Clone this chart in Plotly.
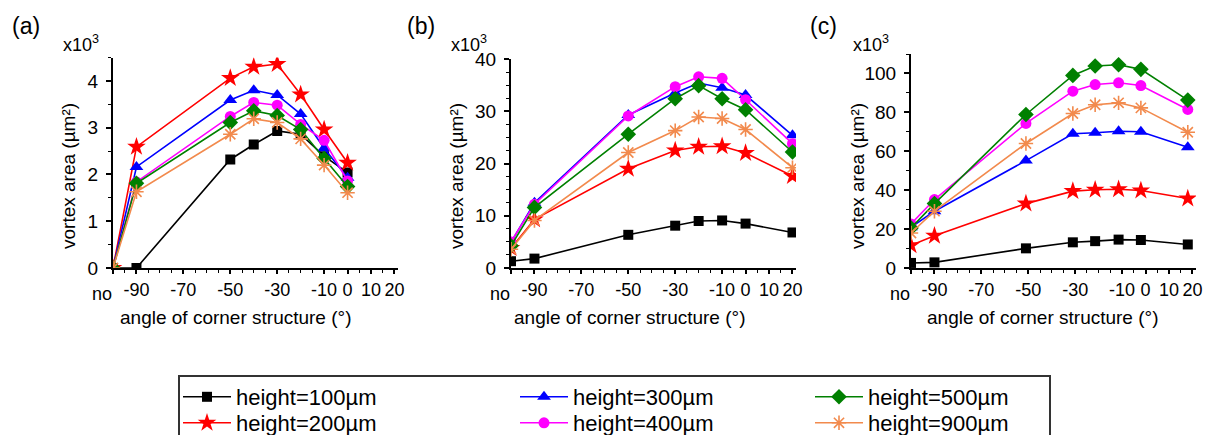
import plotly.graph_objects as go

W, H = 1206, 435

# ---------------- data ----------------
names = ["height=100µm", "height=200µm", "height=300µm",
         "height=400µm", "height=500µm", "height=900µm"]

x_a = [-100, -90, -50, -40, -30, -20, -10, 0]
x_b = [-100, -90, -50, -30, -20, -10, 0, 20]
x_c = [-100, -90, -51, -31, -21.5, -11.5, -2, 18]

# panel (a), x10^3 µm²
a_100 = [0, 0, 2.32, 2.64, 2.93, 2.86, 2.39, 2.04]
a_200 = [0, 2.59, 4.06, 4.30, 4.36, 3.71, 2.96, 2.25]
a_300 = [0, 2.16, 3.59, 3.80, 3.70, 3.29, 2.56, 1.93]
a_400 = [0, 1.84, 3.24, 3.54, 3.48, 3.07, 2.73, 1.86]
a_500 = [0, 1.81, 3.11, 3.36, 3.26, 2.96, 2.34, 1.74]
a_900 = [0, 1.63, 2.86, 3.19, 3.11, 2.76, 2.20, 1.61]

# panel (b)
b_100 = [1.3, 1.8, 6.35, 8.1, 9.0, 9.1, 8.5, 6.8]
b_200 = [3.8, 9.3, 19.0, 22.5, 23.2, 23.3, 22.0, 17.6]
b_300 = [4.9, 12.5, 29.3, 33.5, 35.4, 34.5, 33.1, 25.4]
b_400 = [5.0, 12.2, 29.1, 34.7, 36.6, 36.3, 32.2, 23.8]
b_500 = [4.25, 11.6, 25.6, 32.4, 34.9, 32.4, 30.3, 22.2]
b_900 = [3.6, 9.1, 22.1, 26.3, 28.9, 28.6, 26.5, 19.2]

# panel (c)
c_100 = [2.6, 2.9, 10.1, 13.2, 13.8, 14.6, 14.4, 12.1]
c_200 = [11.7, 16.6, 33.1, 39.5, 40.2, 40.5, 39.8, 35.7]
c_300 = [20.9, 29.2, 55.2, 69.0, 69.5, 70.3, 70.0, 62.1]
c_400 = [22.6, 35.2, 74.3, 90.9, 94.3, 95.2, 93.8, 81.5]
c_500 = [20.6, 33.1, 78.9, 99.0, 103.8, 104.5, 102.1, 86.3]
c_900 = [18.0, 29.2, 64.0, 79.4, 83.9, 84.9, 82.3, 69.8]

# x tick labels ("no" = no corner structure, drawn right-aligned at its tick)
no_label = "no"
x_tickvals = [-100, -90, -70, -50, -30, -10, 0, 10, 20]
x_ticktext = ["", "-90", "-70", "-50", "-30", "-10", "0", "10", "20"]

panels = [
    (x_a, [a_100, a_200, a_300, a_400, a_500, a_900]),
    (x_b, [b_100, b_200, b_300, b_400, b_500, b_900]),
    (x_c, [c_100, c_200, c_300, c_400, c_500, c_900]),
]

# ---------------- styles ----------------
FONT = "Liberation Sans, Arial, sans-serif"
colors = ["#000000", "#ff0000", "#0000ff", "#ff00ff", "#008000", "#f28a4d"]
symbols = ["square", "star", "triangle-up", "circle", "diamond", "asterisk-open"]
sizes = [10, 14, 12, 11, 12, 12]
# one legend per entry so that the 3x2 grid can be placed exactly
legend_ids = ["legend", "legend2", "legend3", "legend4", "legend5", "legend6"]
# (left x, row centre y) in pixels
legend_pos = [(178, 397), (178, 423), (515, 397), (515, 423), (810, 397), (810, 423)]

fig = go.Figure()
for p, (xs, series) in enumerate(panels):
    xa = "x" if p == 0 else f"x{p+1}"
    ya = "y" if p == 0 else f"y{p+1}"
    for i, ys in enumerate(series):
        fig.add_trace(go.Scatter(
            x=xs, y=ys, mode="lines+markers", name=names[i],
            xaxis=xa, yaxis=ya,
            line=dict(color=colors[i], width=1.6),
            marker=dict(symbol=symbols[i], size=sizes[i], color=colors[i],
                        line=dict(color=colors[i], width=1.6 if i == 5 else 0)),
            showlegend=(p == 0), legend=legend_ids[i],
        ))

def px(x):
    return x / W

def py(y):
    return 1 - y / H

x_domains = [(113, 398), (511, 796), (911, 1196)]
y_tops = [57.5, 59, 54]
y_ranges = [[0, 4.5], [0, 40], [0, 110]]
y_dticks = [1, 10, 20]
y_minor = [0.5, 2.5, 10]

layout = dict(
    width=W, height=H, margin=dict(l=0, r=0, t=0, b=0, autoexpand=False),
    paper_bgcolor="white", plot_bgcolor="white",
    font=dict(family=FONT, color="black", size=19),
)
for p in range(3):
    sx = "" if p == 0 else str(p + 1)
    layout["xaxis" + sx] = dict(
        domain=[px(x_domains[p][0]), px(x_domains[p][1])],
        anchor="y" + sx, range=[-100, 21.5],
        tickmode="array", tickvals=x_tickvals, ticktext=x_ticktext,
        tickangle=0,
        ticks="outside", ticklen=4, tickwidth=1.5, tickcolor="black",
        showline=True, linecolor="black", linewidth=2,
        showgrid=False, zeroline=False,
        tickfont=dict(size=18, family=FONT), ticklabelstandoff=0,
        minor=dict(tick0=-100, dtick=5, ticks="outside", ticklen=3,
                   tickwidth=1.2, tickcolor="black", showgrid=False),
    )
    layout["yaxis" + sx] = dict(
        domain=[py(268), py(y_tops[p])],
        anchor="x" + sx, range=y_ranges[p],
        tick0=0, dtick=y_dticks[p],
        ticks="outside", ticklen=5, tickwidth=1.5, tickcolor="black",
        showline=True, linecolor="black", linewidth=2,
        showgrid=False, zeroline=False,
        tickfont=dict(size=19, family=FONT), ticklabelstandoff=4,
        minor=dict(dtick=y_minor[p], ticks="outside", ticklen=3,
                   tickwidth=1.2, tickcolor="black", showgrid=False),
    )

for lid, (lx, ly) in zip(legend_ids, legend_pos):
    layout[lid] = dict(x=px(lx), y=py(ly), xanchor="left", yanchor="middle",
                       bgcolor="rgba(0,0,0,0)", borderwidth=0, itemwidth=48,
                       font=dict(size=22, family=FONT, color="black"))
fig.update_layout(**layout)

# legend frame
fig.add_shape(type="rect", xref="paper", yref="paper",
              x0=px(179), x1=px(1050), y0=py(445), y1=py(376),
              line=dict(color="#333333", width=2), fillcolor="rgba(0,0,0,0)")

ann = []
for lbl, x in zip(["(a)", "(b)", "(c)"], [10, 405, 808]):
    ann.append(dict(text=lbl, x=px(x), y=py(26), xanchor="left", yanchor="middle",
                    font=dict(size=23)))
for x in [61, 449, 851]:
    ann.append(dict(text="x10<sup>3</sup>", x=px(x), y=py(43), xanchor="left",
                    yanchor="middle", font=dict(size=18)))
for x in [68, 456, 857]:
    ann.append(dict(text="vortex area (µm²)", x=px(x), y=py(176), textangle=-90,
                    xanchor="center", yanchor="middle", font=dict(size=19)))
for x in [235, 629, 1042]:
    ann.append(dict(text="angle of corner structure (°)", x=px(x), y=py(317),
                    xanchor="center", yanchor="middle", font=dict(size=19)))
for a in ann:
    a.update(xref="paper", yref="paper", showarrow=False)
# the "no" tick label, right-aligned at the -100 tick of each panel
for p in range(3):
    xr = "x" if p == 0 else f"x{p+1}"
    ann.append(dict(text=no_label, x=x_tickvals[0], xref=xr, xanchor="right",
                    y=py(294), yref="paper", yanchor="middle", xshift=1,
                    showarrow=False, font=dict(size=18)))
fig.update_layout(annotations=ann)

fig.write_html("out.html", config={"displayModeBar": False},
               post_script="document.body.style.margin='0px';")
